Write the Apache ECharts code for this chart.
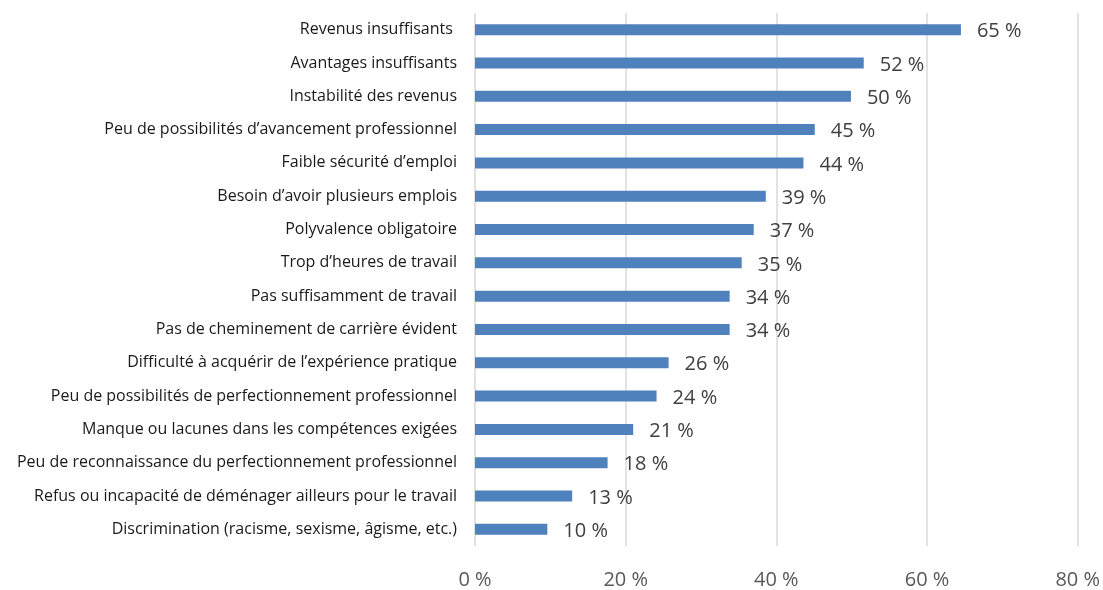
<!DOCTYPE html>
<html>
<head>
<meta charset="utf-8">
<script src="https://cdn.jsdelivr.net/npm/echarts@6/dist/echarts.min.js"></script>
<style>
  html, body { margin: 0; padding: 0; background: #fff; }
  #main { width: 1103px; height: 590px; }
</style>
</head>
<body>
<div id="main"></div>
<script>
// catégories, de haut en bas
var categories = [
    'Revenus insuffisants ',
    'Avantages insuffisants',
    'Instabilité des revenus',
    'Peu de possibilités d\u2019avancement professionnel',
    'Faible sécurité d\u2019emploi',
    'Besoin d\u2019avoir plusieurs emplois',
    'Polyvalence obligatoire',
    'Trop d\u2019heures de travail',
    'Pas suffisamment de travail',
    'Pas de cheminement de carrière évident',
    'Difficulté à acquérir de l\u2019expérience pratique',
    'Peu de possibilités de perfectionnement professionnel',
    'Manque ou lacunes dans les compétences exigées',
    'Peu de reconnaissance du perfectionnement professionnel',
    'Refus ou incapacité de déménager ailleurs pour le travail',
    'Discrimination (racisme, sexisme, âgisme, etc.)'
];
var values = [64.5, 51.6, 49.9, 45.1, 43.6, 38.6, 37.0, 35.4, 33.8, 33.8, 25.7, 24.1, 21.0, 17.6, 12.9, 9.6];
var ticks = [0, 20, 40, 60, 80];

function initOption() {
    var option = {
        animation: false,
        grid: { left: 475, right: 25, top: 13, bottom: 40 },
        xAxis: {
            type: 'value',
            min: ticks[0],
            max: ticks[ticks.length - 1],
            interval: 20,
            axisLine: { show: false },
            axisTick: { show: false },
            splitLine: { lineStyle: { color: '#d9d9d9', width: 1.5 } },
            axisLabel: {
                margin: 24,
                color: '#595959',
                fontSize: 20,
                fontFamily: 'Open Sans',
                formatter: function (v) { return v + ' %'; }
            }
        },
        yAxis: {
            type: 'category',
            inverse: true,
            data: categories,
            axisLine: { show: false },
            axisTick: { show: false },
            axisLabel: {
                margin: 18,
                color: '#1a1a1a',
                fontSize: 16,
                fontFamily: 'Open Sans'
            }
        },
        series: [{
            type: 'bar',
            data: values,
            barWidth: 11,
            itemStyle: { color: '#4f81bd' },
            label: {
                show: true,
                position: 'right',
                distance: 16,
                offset: [0, 2],
                color: '#404040',
                fontSize: 20,
                fontFamily: 'Open Sans',
                formatter: function (p) { return Math.round(p.value) + ' %'; }
            }
        }]
    };
    return option;
}

var myChart = echarts.init(document.getElementById('main'));
myChart.setOption(initOption());
</script>
</body>
</html>
